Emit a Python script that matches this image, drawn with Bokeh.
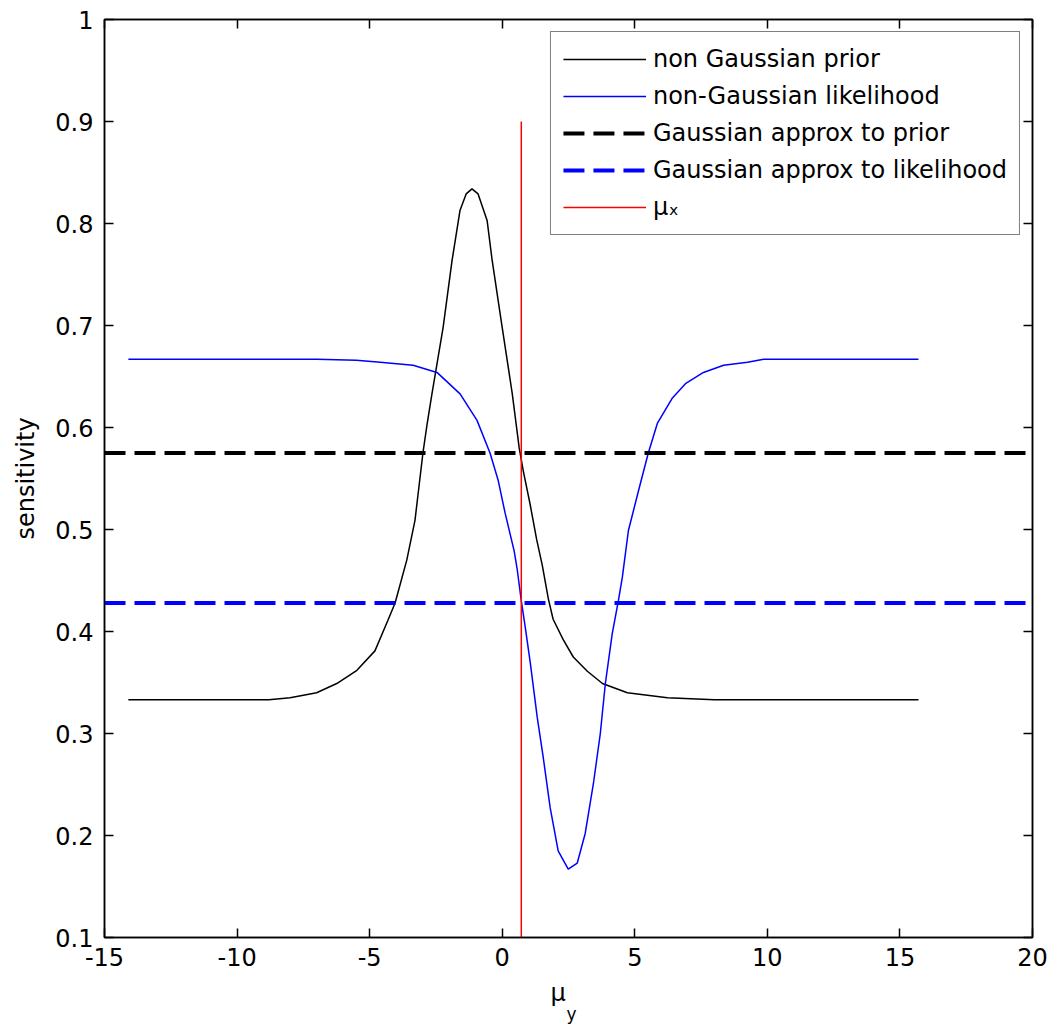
from bokeh.plotting import figure
from bokeh.models import (Legend, LegendItem, LinearAxis, FixedTicker, CustomJSTickFormatter, Label)
from bokeh.embed import file_html
from bokeh.resources import INLINE

# ---- data ----
prior_x = [-14.1, -12.0, -10.0, -8.8, -8.0, -7.0, -6.24, -5.48, -4.8, -4.31, -4.04, -3.6,
           -3.29, -2.99, -2.84, -2.65, -2.23, -1.89, -1.59, -1.36, -1.14, -0.91, -0.57, -0.38,
           0.0, 0.38, 0.64, 0.79, 1.05, 1.30, 1.51, 1.74, 1.92, 2.30, 2.68, 3.21, 3.78, 4.72,
           6.23, 8.0, 10.0, 15.7]
prior_y = [0.333, 0.333, 0.333, 0.333, 0.335, 0.340, 0.349, 0.362, 0.381, 0.411, 0.428, 0.470,
           0.509, 0.575, 0.602, 0.633, 0.698, 0.764, 0.813, 0.829, 0.834, 0.829, 0.803, 0.764,
           0.698, 0.633, 0.580, 0.558, 0.525, 0.490, 0.465, 0.432, 0.412, 0.392, 0.375, 0.361, 0.349, 0.340,
           0.335, 0.333, 0.333, 0.333]

lik_x = [-14.1, -10.0, -7.0, -5.5, -4.6, -3.36, -2.46, -1.59, -0.95, -0.46, -0.15, 0.11,
         0.45, 0.56, 0.72, 0.87, 1.06, 1.32, 1.55, 1.81, 2.11, 2.49, 2.83, 3.13, 3.44, 3.70, 3.89,
         4.15, 4.38, 4.53, 4.76, 5.14, 5.51, 5.85, 6.42, 6.91, 7.59, 8.35, 9.25, 9.86, 15.7]
lik_y = [0.667, 0.667, 0.667, 0.666, 0.664, 0.661, 0.654, 0.633, 0.607, 0.575, 0.548, 0.516,
         0.479, 0.462, 0.430, 0.404, 0.369, 0.316, 0.276, 0.227, 0.185, 0.167, 0.173, 0.202, 0.251,
         0.300, 0.349, 0.398, 0.430, 0.453, 0.499, 0.538, 0.575, 0.604, 0.629, 0.643, 0.654, 0.661,
         0.664, 0.667, 0.667]

gauss_prior = 0.575
gauss_lik = 0.428
mu_x = 0.72
mu_x_span = [0.1, 0.9]

x_ticks = [-15, -10, -5, 0, 5, 10, 15, 20]
x_tick_labels = ["-15", "-10", "-5", "0", "5", "10", "15", "20"]
y_ticks = [0.1, 0.2, 0.3, 0.4, 0.5, 0.6, 0.7, 0.8, 0.9, 1.0]
y_tick_labels = ["0.1", "0.2", "0.3", "0.4", "0.5", "0.6", "0.7", "0.8", "0.9", "1"]

labels = ["non Gaussian prior", "non-Gaussian likelihood", "Gaussian approx to prior",
          "Gaussian approx to likelihood", "\u03bc\u2093"]

FONT = "DejaVu Sans"

p = figure(width=1057, height=1025, x_range=(-15, 20), y_range=(0.1, 1.0),
           output_backend="svg", toolbar_location=None,
           min_border_left=104, min_border_right=25, min_border_top=19, min_border_bottom=88)
p.background_fill_color = "white"
p.border_fill_color = "white"
p.xgrid.visible = False
p.ygrid.visible = False
p.outline_line_color = "black"
p.outline_line_width = 1.5

r1 = p.line(prior_x, prior_y, line_color="black", line_width=1.5)
r2 = p.line(lik_x, lik_y, line_color="blue", line_width=1.5)
r3 = p.line([x_ticks[0], x_ticks[-1]], [gauss_prior, gauss_prior], line_color="black",
            line_width=4, line_dash="21 9")
r4 = p.line([x_ticks[0], x_ticks[-1]], [gauss_lik, gauss_lik], line_color="blue",
            line_width=4, line_dash="21 9")
r5 = p.line([mu_x, mu_x], mu_x_span, line_color="red", line_width=1.5)

def style_axis(ax):
    ax.axis_line_color = "black"
    ax.axis_line_width = 1.5
    ax.major_tick_line_color = "black"
    ax.major_tick_line_width = 1.5
    ax.major_tick_in = 9
    ax.major_tick_out = 0
    ax.minor_tick_line_color = None
    ax.major_label_text_font = FONT
    ax.major_label_text_font_size = "24px"
    ax.major_label_text_color = "black"
    ax.axis_label_text_font = FONT
    ax.axis_label_text_font_size = "24px"
    ax.axis_label_text_font_style = "normal"
    ax.axis_label_text_color = "black"

xa = p.xaxis[0]
ya = p.yaxis[0]
style_axis(xa)
style_axis(ya)
xa.ticker = FixedTicker(ticks=x_ticks)
ya.ticker = FixedTicker(ticks=y_ticks)
xa.major_label_overrides = {t: s for t, s in zip(x_ticks, x_tick_labels)}
ya.major_label_overrides = {t: s for t, s in zip(y_ticks, y_tick_labels)}
xa.major_label_standoff = 10
ya.major_label_standoff = 11
ya.axis_label = "sensitivity"
ya.axis_label_standoff = 12

# top and right axes (ticks only)
top = LinearAxis(ticker=FixedTicker(ticks=x_ticks),
                 formatter=CustomJSTickFormatter(code="return ''"))
right = LinearAxis(ticker=FixedTicker(ticks=y_ticks),
                   formatter=CustomJSTickFormatter(code="return ''"))
for ax in (top, right):
    style_axis(ax)
    ax.major_label_standoff = 0
    ax.major_label_text_font_size = "1px"
p.add_layout(top, "above")
p.add_layout(right, "right")

# x axis label mu_y with subscript, placed in the panels below the x axis
p.add_layout(Label(x=446, y=4, x_units="screen", y_units="screen", text="\u03bc",
                   text_font=FONT, text_font_size="24px", text_baseline="alphabetic",
                   text_color="black"), "below")
p.add_layout(Label(x=462, y=3, x_units="screen", y_units="screen", text="y",
                   text_font=FONT, text_font_size="17px", text_baseline="alphabetic",
                   text_color="black"), "below")

legend = Legend(items=[LegendItem(label=l, renderers=[r]) for l, r in zip(labels, [r1, r2, r3, r4, r5])],
                location="top_right")
legend.label_text_font = FONT
legend.label_text_font_size = "24px"
legend.label_text_color = "black"
legend.glyph_width = 83
legend.glyph_height = 30
legend.label_height = 30
legend.label_standoff = 7
legend.spacing = 7
legend.padding = 12
legend.margin = 12
legend.border_line_color = "black"
legend.border_line_width = 1.5
legend.background_fill_alpha = 1.0
p.add_layout(legend)

open("out.html", "w").write(file_html(p, INLINE))
